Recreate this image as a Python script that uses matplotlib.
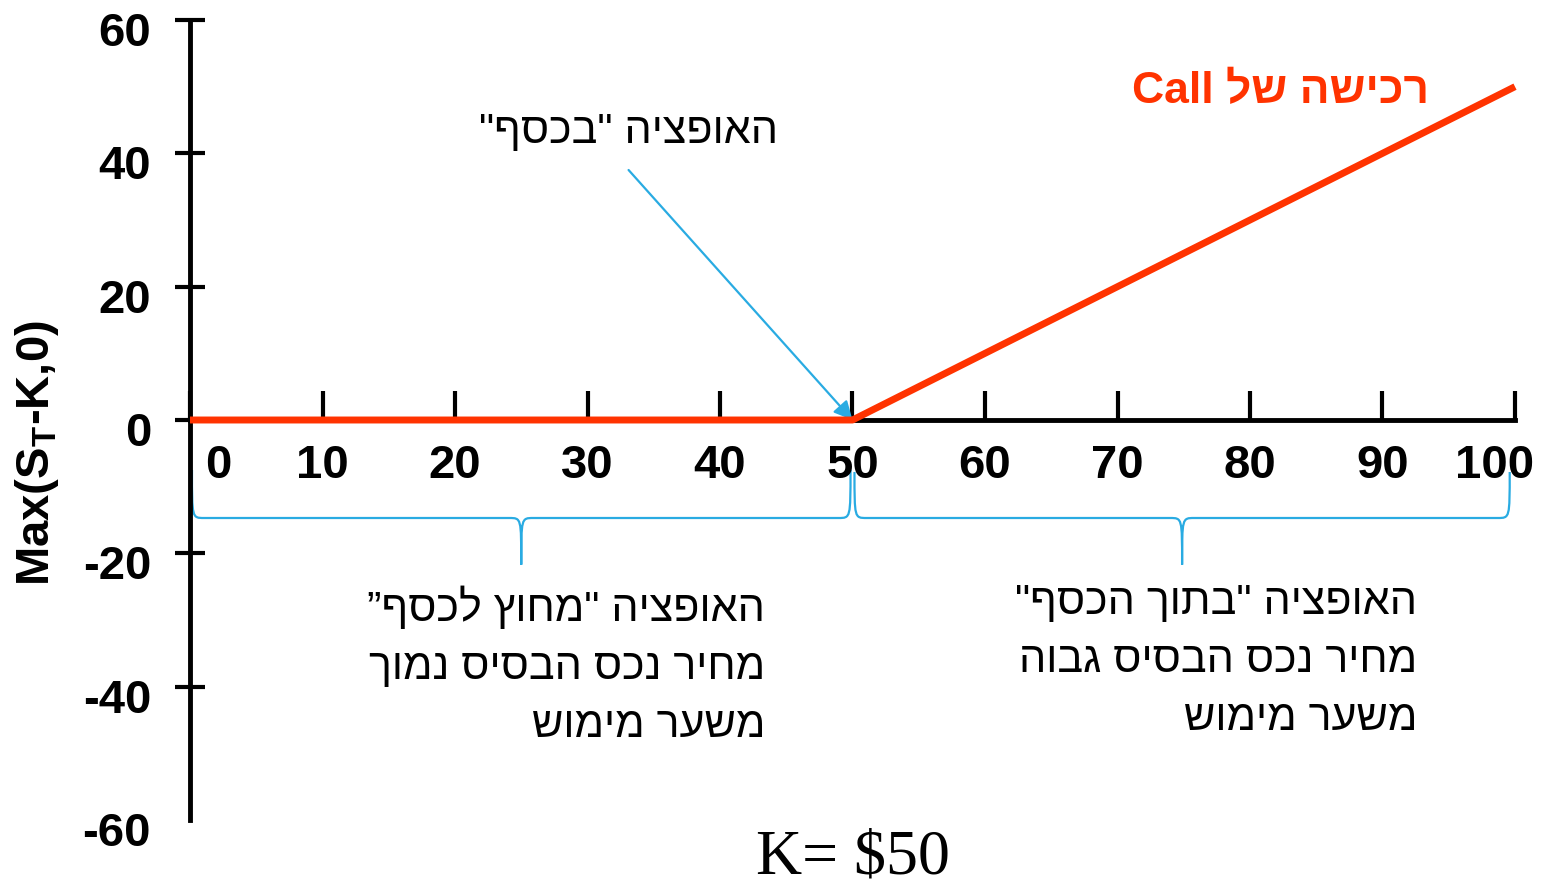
import matplotlib
matplotlib.use("Agg")
import matplotlib.pyplot as plt
from matplotlib.path import Path
from matplotlib.patches import PathPatch
from matplotlib.transforms import ScaledTranslation

# payoff of a long call, strike 50
STRIKE = 50
spot = [0, 50, 100]
payoff = [max(s - STRIKE, 0) for s in spot]

x_ticks = [0, 10, 20, 30, 40, 50, 60, 70, 80, 90, 100]
y_ticks = [-60, -40, -20, 0, 20, 40, 60]

# Hebrew strings in logical order; matplotlib has no bidi, so they get reversed
title_call = "רכישה של"
atm_text = 'האופציה "בכסף"'
otm_lines = ['האופציה "מחוץ לכסף”', "מחיר נכס הבסיס נמוך", "משער מימוש"]
itm_lines = ['האופציה "בתוך הכסף"', "מחיר נכס הבסיס גבוה", "משער מימוש"]

RED = "#ff3300"
BLUE = "#29abe2"
BOLD_FONT = ["Liberation Sans", "DejaVu Sans"]
HEB_FONT = ["Liberation Sans", "DejaVu Sans"]

plt.rcParams["axes.unicode_minus"] = False
plt.rcParams["mathtext.fontset"] = "custom"
plt.rcParams["mathtext.bf"] = "Liberation Sans:bold"
plt.rcParams["mathtext.rm"] = "Liberation Sans:bold"


def rtl(s):
    return s[::-1]


def brace(ax, x0, x1, ytop, ymid, ytip, r):
    xm = (x0 + x1) / 2
    verts = [
        (x0, ytop), (x0, ymid), (x0, ymid), (x0 + r, ymid),
        (xm - r, ymid),
        (xm, ymid), (xm, ymid), (xm, ytip),
        (xm, ymid), (xm, ymid), (xm + r, ymid),
        (x1 - r, ymid),
        (x1, ymid), (x1, ymid), (x1, ytop),
    ]
    codes = [Path.MOVETO, Path.CURVE4, Path.CURVE4, Path.CURVE4,
             Path.LINETO,
             Path.CURVE4, Path.CURVE4, Path.CURVE4,
             Path.CURVE4, Path.CURVE4, Path.CURVE4,
             Path.LINETO,
             Path.CURVE4, Path.CURVE4, Path.CURVE4]
    ax.add_patch(PathPatch(Path(verts, codes), fill=False, edgecolor=BLUE,
                           linewidth=1.6, clip_on=False))


fig = plt.figure(figsize=(15.49, 8.85), dpi=100)
ax = fig.add_axes([190 / 1549, 65 / 885, 1325 / 1549, 800 / 885])
ax.set_xlim(0, 100)
ax.set_ylim(-60, 60)

for side in ("top", "right"):
    ax.spines[side].set_visible(False)
ax.spines["bottom"].set_position(("data", 0))
ax.spines["left"].set_position(("data", 0))
ax.spines["bottom"].set_linewidth(3.5)
ax.spines["left"].set_linewidth(3.5)

ax.set_xticks(x_ticks)
ax.set_yticks(y_ticks)
ax.tick_params(axis="x", direction="in", length=21, width=3, pad=17,
               labelsize=34)
ax.tick_params(axis="y", direction="inout", length=22, width=3, pad=17,
               labelsize=34)
for lab in ax.get_xticklabels() + ax.get_yticklabels():
    lab.set_fontweight("bold")
    lab.set_family(BOLD_FONT)

# keep "0" clear of the y axis and "100" inside the figure
xlabs = ax.get_xticklabels()
xlabs[0].set_transform(xlabs[0].get_transform() + ScaledTranslation(0.28, 0, fig.dpi_scale_trans))
xlabs[-1].set_transform(xlabs[-1].get_transform() + ScaledTranslation(-0.2, 0, fig.dpi_scale_trans))
for lab in ax.get_yticklabels():
    lab.set_transform(lab.get_transform() + ScaledTranslation(0, -0.09, fig.dpi_scale_trans))
ax.yaxis.get_major_ticks()[0].tick1line.set_visible(False)

ax.plot(spot, payoff, color=RED, linewidth=5, solid_capstyle="butt",
        clip_on=False, zorder=5)

ax.text(82.3, 49.2, "Call " + rtl(title_call), color=RED, fontsize=32,
        fontweight="bold", family=BOLD_FONT, ha="center", va="center")

ax.text(33.1, 43.2, rtl(atm_text), fontsize=31, family=HEB_FONT,
        ha="center", va="center")
ax.annotate("", xy=(STRIKE, 0), xytext=(33.1, 37.5),
            arrowprops=dict(arrowstyle="-|>", color=BLUE, lw=1.6,
                            mutation_scale=28, shrinkA=0, shrinkB=0))

brace(ax, 0.15, STRIKE - 0.15, -7.5, -14.7, -21.7, 0.9)
brace(ax, STRIKE + 0.15, 99.6, -7.8, -14.7, -21.7, 0.9)

ax.text(43.4, -25.0, "\n".join(rtl(s) for s in otm_lines), fontsize=31,
        family=HEB_FONT, ha="right", va="top", multialignment="right",
        linespacing=1.58)
ax.text(92.6, -24.5, "\n".join(rtl(s) for s in itm_lines), fontsize=31,
        family=HEB_FONT, ha="right", va="top", multialignment="right",
        linespacing=1.58)

fig.text(37 / 1549, 1 - 453 / 885, r"Max(S$_{\mathbf{T}}$-K,0)", rotation=90,
         fontsize=34, fontweight="bold", family=BOLD_FONT,
         ha="center", va="center")
fig.text(853 / 1549, 1 - 858 / 885, r"K= \$50", fontsize=46,
         family=["Liberation Serif", "DejaVu Serif"], ha="center", va="center")

fig.savefig("out.png", dpi=100)
